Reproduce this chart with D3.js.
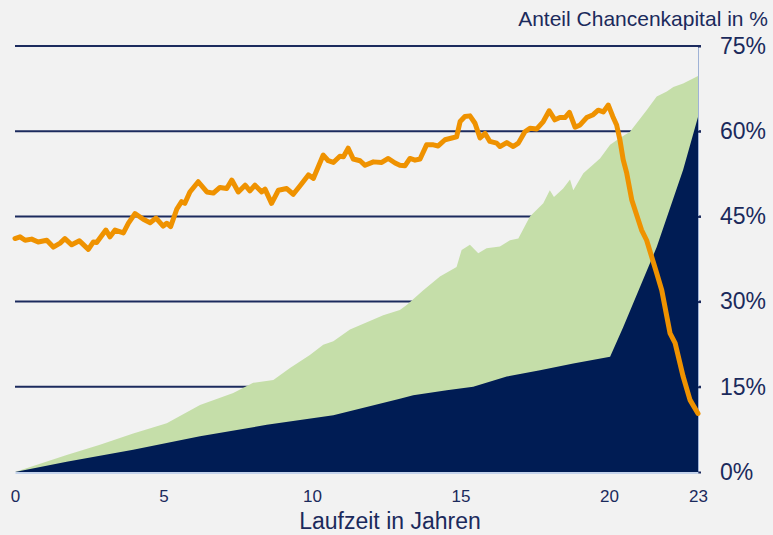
<!DOCTYPE html>
<html>
<head>
<meta charset="utf-8">
<script src="https://cdn.jsdelivr.net/npm/d3@7"></script>
<style>
  html, body { margin: 0; padding: 0; background: #f2f2f2; }
  svg { display: block; font-family: "Liberation Sans", Arial, sans-serif; }
</style>
</head>
<body>
<svg id="chart"></svg>
<script>
// Anteil Chancenkapital (orange line), year -> percent
const lineYears = [0, 0.17, 0.34, 0.56, 0.78, 1.07, 1.29, 1.52, 1.68, 1.91, 2.17, 2.47, 2.64, 2.75, 3.06, 3.2, 3.37, 3.65, 3.82, 4.04,
  4.32, 4.55, 4.75, 4.99, 5.11, 5.24, 5.45, 5.61, 5.72, 5.89, 6.17, 6.46, 6.68, 6.9, 7.13, 7.3, 7.52, 7.75, 7.91, 8.08,
  8.31, 8.42, 8.64, 8.87, 9.15, 9.37, 9.6, 9.88, 10.05, 10.38, 10.55, 10.72, 10.94, 11.06, 11.22, 11.39, 11.62, 11.79, 12.07, 12.35,
  12.57, 12.8, 12.96, 13.13, 13.3, 13.47, 13.64, 13.86, 14.09, 14.25, 14.48, 14.71, 14.87, 14.99, 15.15, 15.32, 15.49, 15.66, 15.83, 15.99,
  16.22, 16.33, 16.56, 16.78, 16.95, 17.17, 17.34, 17.57, 17.79, 17.99, 18.18, 18.35, 18.52, 18.67, 18.86, 19.03, 19.25, 19.47, 19.64, 19.81,
  19.98, 20.13, 20.26, 20.37, 20.48, 20.6, 20.77, 21.1, 21.27, 21.61, 21.78, 22.06, 22.23, 22.5, 22.73, 23]
const lineValues = [41.1, 41.4, 40.8, 41.0, 40.5, 40.8, 39.6, 40.3, 41.1, 40.0, 40.7, 39.2, 40.5, 40.4, 42.6, 41.4, 42.6, 42.1, 43.8, 45.5,
  44.5, 43.9, 44.7, 43.3, 43.8, 43.2, 46.3, 47.6, 47.3, 49.3, 51.1, 49.3, 49.1, 50.1, 49.9, 51.4, 49.3, 50.5, 49.5, 50.5,
  49.3, 49.8, 47.3, 49.6, 49.9, 48.9, 50.4, 52.3, 51.7, 55.8, 54.8, 54.5, 55.6, 55.5, 57.0, 55.1, 54.8, 54.0, 54.6, 54.5,
  55.2, 54.4, 54.0, 53.9, 55.2, 54.9, 55.1, 57.6, 57.6, 57.4, 58.5, 58.8, 59.0, 61.7, 62.6, 62.7, 61.4, 58.8, 59.6, 58.2,
  57.9, 57.3, 58.0, 57.3, 57.9, 59.9, 60.5, 60.4, 61.7, 63.6, 62.0, 62.4, 62.4, 63.3, 60.7, 61.1, 62.4, 62.9, 63.7, 63.4,
  64.6, 62.6, 61.1, 58.5, 55.0, 52.6, 47.9, 42.6, 40.8, 35.0, 32.0, 24.4, 22.7, 16.8, 12.7, 10.3]

// light green area
const greenYears = [0, 1.74, 2.86, 3.98, 5.11, 6.23, 7.35, 8.02, 8.7, 9.26, 9.93, 10.38, 10.72, 11.28, 12.4, 12.96, 13.19, 13.75, 14.31, 14.87,
  15.04, 15.32, 15.6, 15.88, 16.33, 16.67, 16.95, 17.34, 17.79, 18.01, 18.15, 18.46, 18.69, 18.8, 19.14, 19.7, 20.04, 20.37, 20.71, 21.27,
  21.61, 21.95, 22.17, 22.5, 23]
const greenValues = [0, 3.0, 4.8, 6.8, 8.6, 11.8, 13.9, 15.7, 16.2, 18.3, 20.6, 22.4, 23.0, 25.1, 27.6, 28.5, 29.4, 32.0, 34.4, 36.1,
  39.1, 40.0, 38.5, 39.4, 39.7, 40.8, 41.1, 45.0, 47.3, 49.6, 48.4, 49.9, 51.5, 49.6, 52.6, 55.2, 57.6, 58.8, 59.9, 63.7,
  66.1, 67.0, 67.8, 68.4, 69.7]

// dark navy area
const navyYears = [0, 1.74, 3.98, 6.23, 8.48, 10.72, 12.96, 13.41, 14.54, 15.43, 16.56, 17.68, 18.8, 20.04, 20.48, 21.61, 22.5, 23]
const navyValues = [0, 1.8, 3.9, 6.3, 8.3, 10.0, 12.9, 13.5, 14.4, 15.0, 16.8, 17.9, 19.1, 20.3, 25.5, 39.6, 53.2, 62.5]

const xTicks = [0, 5, 10, 15, 20, 23]
const yTicks = [0, 15, 30, 45, 60, 75]

const w = 773
const h = 535
const navy = "#001c54"
const textColor = "#1b2a5c"

const svg = d3.select("#chart")
  .attr("width", w)
  .attr("height", h)

svg.append("rect")
  .attr("width", w)
  .attr("height", h)
  .attr("fill", "#f2f2f2")

const x = d3.scaleLinear().domain([0, 23]).range([15, 698])
const y = d3.scaleLinear().domain([0, 75]).range([472, 46])

// gridlines behind the areas
svg.append("g")
  .selectAll("line")
  .data(yTicks.filter(d => d > 0))
  .enter()
  .append("line")
  .attr("x1", x(0))
  .attr("x2", x(23) + 3)
  .attr("y1", d => y(d))
  .attr("y2", d => y(d))
  .attr("stroke", "#1c2b5e")
  .attr("stroke-width", 2)

const toPts = (xs, ys) => xs.map((d, i) => [d, ys[i]])

const area = d3.area()
  .x(d => x(d[0]))
  .y0(y(0))
  .y1(d => y(d[1]))

svg.append("path")
  .datum(toPts(greenYears, greenValues))
  .attr("d", area)
  .attr("fill", "#c5dea9")

svg.append("path")
  .datum(toPts(navyYears, navyValues))
  .attr("d", area)
  .attr("fill", navy)

// right axis
const yAxis = d3.axisRight(y)
  .tickValues(yTicks)
  .tickSize(3)
  .tickPadding(19)
  .tickFormat(d => d + "%")

const yg = svg.append("g")
  .attr("transform", `translate(${x(23)}, 0)`)
  .call(yAxis)
yg.select(".domain").attr("stroke", "#9fb2d6").attr("stroke-width", 1)
yg.selectAll(".tick line").attr("stroke", "#1c2b5e").attr("stroke-width", 2)
yg.selectAll(".tick text")
  .attr("fill", textColor)
  .attr("font-size", 23)
  .attr("font-family", "Liberation Sans, Arial, sans-serif")

// bottom axis
const xAxis = d3.axisBottom(x)
  .tickValues(xTicks)
  .tickSize(0)
  .tickPadding(17)

const xg = svg.append("g")
  .attr("transform", `translate(0, ${y(0) + 0.5})`)
  .call(xAxis)
xg.select(".domain").attr("stroke", "#b4c8ea").attr("stroke-width", 1.5)
xg.selectAll(".tick text")
  .attr("fill", textColor)
  .attr("font-size", 17)
  .attr("font-family", "Liberation Sans, Arial, sans-serif")

// orange line
const line = d3.line()
  .x(d => x(d[0]))
  .y(d => y(d[1]))

svg.append("path")
  .datum(toPts(lineYears, lineValues))
  .attr("d", line)
  .attr("fill", "none")
  .attr("stroke", "#ef9200")
  .attr("stroke-width", 5)
  .attr("stroke-linejoin", "round")
  .attr("stroke-linecap", "round")

svg.append("text")
  .attr("x", 768)
  .attr("y", 26)
  .attr("text-anchor", "end")
  .attr("font-size", 21)
  .attr("fill", textColor)
  .text("Anteil Chancenkapital in %")

svg.append("text")
  .attr("x", 390)
  .attr("y", 529)
  .attr("text-anchor", "middle")
  .attr("font-size", 23)
  .attr("fill", textColor)
  .text("Laufzeit in Jahren")
</script>
</body>
</html>
